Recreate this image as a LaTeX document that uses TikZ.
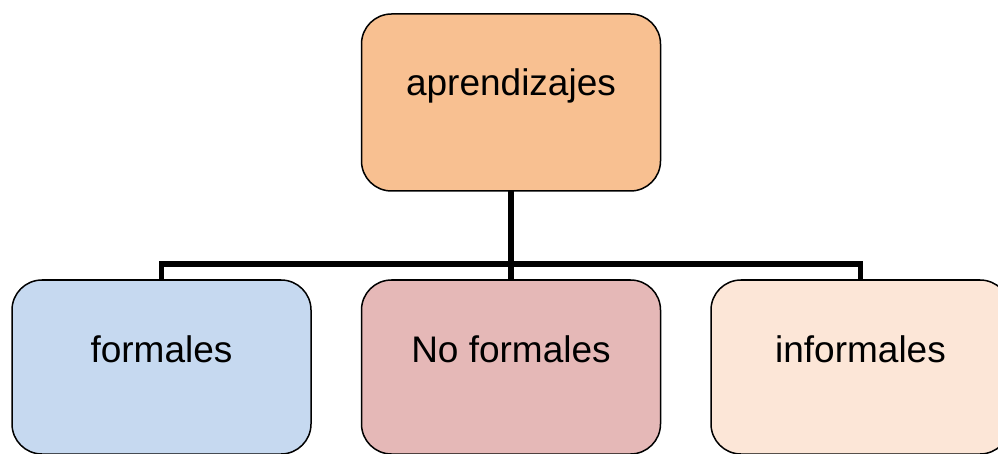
\documentclass[tikz,border=0pt]{standalone}
\usepackage{fontspec}
\setmainfont{Liberation Sans}
\definecolor{orangebox}{HTML}{F8C091}
\definecolor{bluebox}{HTML}{C6D9F0}
\definecolor{pinkbox}{HTML}{E5B8B7}
\definecolor{peachbox}{HTML}{FCE6D7}
\begin{document}
\begin{tikzpicture}[x=1pt,y=-1pt,
  box/.style={draw=black,line width=1.5pt,rounded corners=30pt,minimum width=299pt,inner sep=0pt,outer sep=0pt},
  lbl/.style={font=\fontsize{37}{44}\selectfont,inner sep=0pt,anchor=base},
  conn/.style={line width=5.5pt}]
\useasboundingbox (0,0) rectangle (998,454);
\clip (0,0) rectangle (998,454);
\node[box,fill=orangebox,minimum height=177pt] (top) at (511,102.5) {};
\node[box,fill=bluebox,minimum height=174pt] (b1) at (161.5,367) {};
\node[box,fill=pinkbox,minimum height=174pt] (b2) at (511,367) {};
\node[box,fill=peachbox,minimum height=174pt] (b3) at (860.5,367) {};
\node[lbl] (t0) at (511,96) {aprendizajes};
\node[lbl] (t1) at (161.5,362) {formales};
\node[lbl] (t2) at (511,362) {No formales};
\node[lbl] (t3) at (860.5,362) {informales};
\coordinate (mid) at (top.south |- 0,264);
\coordinate (l) at (b1.north |- 0,264);
\coordinate (r) at (b3.north |- 0,264);
\draw[conn] (top.south) -- (mid);
\draw[conn,line cap=rect] (l) -- (r);
\draw[conn] (l) -- (b1.north);
\draw[conn] (mid) -- (b2.north);
\draw[conn] (r) -- (b3.north);
\end{tikzpicture}
\end{document}
